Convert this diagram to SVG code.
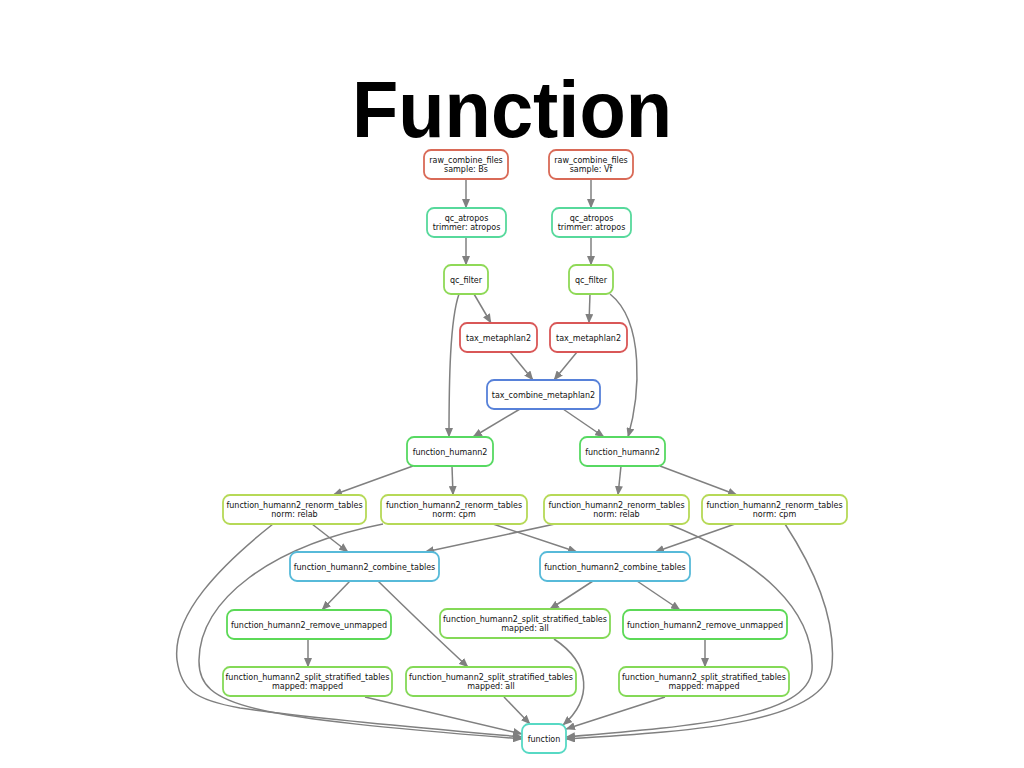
<svg xmlns="http://www.w3.org/2000/svg" width="1024" height="768" viewBox="0 0 1024 768">
<defs>
<marker id="arr" markerUnits="userSpaceOnUse" markerWidth="10" markerHeight="8" refX="9" refY="4" orient="auto">
<path d="M0,0 L9.5,4 L0,8 z" fill="#808080"/>
</marker>
<style>
.n rect{fill:#fff;stroke-width:1.8}
.n text{font-family:"DejaVu Sans",Verdana,sans-serif;font-size:8px;fill:#111;text-anchor:middle}
#edges path{fill:none;stroke:#808080;stroke-width:1.5;marker-end:url(#arr)}
.title{font-family:"Liberation Sans",Arial,Helvetica,sans-serif;font-weight:bold;font-size:80px;fill:#000;text-anchor:middle}
</style>
</defs>
<rect width="1024" height="768" fill="#fff"/>
<text class="title" x="512" y="137" textLength="320" lengthAdjust="spacingAndGlyphs">Function</text>

<g id="edges">
<path d="M466,179 L466,208"/>
<path d="M591,179 L591,208"/>
<path d="M466,237 L466,265"/>
<path d="M591,237 L591,265"/>
<path d="M474,294 L491,323"/>
<path d="M459,294 C450,320 449,380 449,437"/>
<path d="M590,294 L589,323"/>
<path d="M610,294 C645,322 640,395 628,437"/>
<path d="M510,352 L533,380"/>
<path d="M577,352 L554,380"/>
<path d="M520,409 L473,437"/>
<path d="M563,409 L604,437"/>
<path d="M413,466 L333,495"/>
<path d="M452,466 L453,495"/>
<path d="M621,466 L618,495"/>
<path d="M660,466 L737,495"/>
<path d="M312,524 L348,552"/>
<path d="M273,524 C220,566 172,615 177,660 C181,690 195,700 240,708 C320,720 450,730 522,737"/>
<path d="M383,524 C270,546 200,600 199,660 C198,708 250,717 522,739"/>
<path d="M493,524 L577,552"/>
<path d="M555,524 L425,552"/>
<path d="M668,524 C760,560 815,610 812,670 C808,716 700,726 566,737"/>
<path d="M735,524 L655,552"/>
<path d="M785,524 C815,570 836,620 832,665 C828,722 700,731 566,739"/>
<path d="M350,581 L322,610"/>
<path d="M378,581 Q428,630 468,667"/>
<path d="M593,581 L550,609"/>
<path d="M637,581 L680,610"/>
<path d="M308,639 L308,667"/>
<path d="M705,639 L705,667"/>
<path d="M554,639 C592,664 592,700 563,725"/>
<path d="M504,697 L530,724"/>
<path d="M665,697 L566,729"/>
<path d="M365,697 L522,734"/>
</g>

<g id="raw_bs" class="n"><rect x="424" y="150" width="84" height="29" rx="7" stroke="#d96a57"/><text x="466" y="162.5">raw_combine_files</text><text x="466" y="172">sample: Bs</text></g>
<g id="raw_vf" class="n"><rect x="549" y="150" width="84" height="29" rx="7" stroke="#d96a57"/><text x="591" y="162.5">raw_combine_files</text><text x="591" y="172">sample: Vf</text></g>
<g id="qc_atropos_bs" class="n"><rect x="427" y="208" width="79" height="29" rx="7" stroke="#57d99c"/><text x="466.5" y="220.5">qc_atropos</text><text x="466.5" y="230">trimmer: atropos</text></g>
<g id="qc_atropos_vf" class="n"><rect x="552" y="208" width="79" height="29" rx="7" stroke="#57d99c"/><text x="591.5" y="220.5">qc_atropos</text><text x="591.5" y="230">trimmer: atropos</text></g>
<g id="qc_filter_bs" class="n"><rect x="444" y="265" width="44" height="29" rx="7" stroke="#8fd957"/><text x="466" y="282.5">qc_filter</text></g>
<g id="qc_filter_vf" class="n"><rect x="569" y="265" width="44" height="29" rx="7" stroke="#8fd957"/><text x="591" y="282.5">qc_filter</text></g>
<g id="tax_metaphlan2_bs" class="n"><rect x="460" y="323" width="77" height="29" rx="7" stroke="#d95757"/><text x="498.5" y="340.5">tax_metaphlan2</text></g>
<g id="tax_metaphlan2_vf" class="n"><rect x="550" y="323" width="77" height="29" rx="7" stroke="#d95757"/><text x="588.5" y="340.5">tax_metaphlan2</text></g>
<g id="tax_combine_metaphlan2" class="n"><rect x="487" y="380" width="113" height="29" rx="7" stroke="#5781d9"/><text x="543.5" y="397.5">tax_combine_metaphlan2</text></g>
<g id="function_humann2_bs" class="n"><rect x="407" y="437" width="86" height="29" rx="7" stroke="#57d962"/><text x="450" y="454.5">function_humann2</text></g>
<g id="function_humann2_vf" class="n"><rect x="580" y="437" width="85" height="29" rx="7" stroke="#57d962"/><text x="622.5" y="454.5">function_humann2</text></g>
<g id="renorm_relab_1" class="n"><rect x="223" y="495" width="143" height="29" rx="7" stroke="#b6d957"/><text x="294.5" y="507.5">function_humann2_renorm_tables</text><text x="294.5" y="517">norm: relab</text></g>
<g id="renorm_cpm_1" class="n"><rect x="381" y="495" width="146" height="29" rx="7" stroke="#b6d957"/><text x="454" y="507.5">function_humann2_renorm_tables</text><text x="454" y="517">norm: cpm</text></g>
<g id="renorm_relab_2" class="n"><rect x="544" y="495" width="145" height="29" rx="7" stroke="#b6d957"/><text x="616.5" y="507.5">function_humann2_renorm_tables</text><text x="616.5" y="517">norm: relab</text></g>
<g id="renorm_cpm_2" class="n"><rect x="702" y="495" width="145" height="29" rx="7" stroke="#b6d957"/><text x="774.5" y="507.5">function_humann2_renorm_tables</text><text x="774.5" y="517">norm: cpm</text></g>
<g id="combine_tables_1" class="n"><rect x="290" y="552" width="149" height="29" rx="7" stroke="#57bad9"/><text x="364.5" y="569.5">function_humann2_combine_tables</text></g>
<g id="combine_tables_2" class="n"><rect x="540" y="552" width="150" height="29" rx="7" stroke="#57bad9"/><text x="615" y="569.5">function_humann2_combine_tables</text></g>
<g id="remove_unmapped_1" class="n"><rect x="227" y="610" width="164" height="29" rx="7" stroke="#5cd957"/><text x="309" y="627.5">function_humann2_remove_unmapped</text></g>
<g id="split_all_2" class="n"><rect x="440" y="609" width="170" height="29" rx="7" stroke="#84d957"/><text x="525" y="621.5">function_humann2_split_stratified_tables</text><text x="525" y="631">mapped: all</text></g>
<g id="remove_unmapped_2" class="n"><rect x="623" y="610" width="164" height="29" rx="7" stroke="#5cd957"/><text x="705" y="627.5">function_humann2_remove_unmapped</text></g>
<g id="split_mapped_1" class="n"><rect x="223" y="667" width="169" height="29" rx="7" stroke="#84d957"/><text x="307.5" y="679.5">function_humann2_split_stratified_tables</text><text x="307.5" y="689">mapped: mapped</text></g>
<g id="split_all_1" class="n"><rect x="406" y="667" width="170" height="29" rx="7" stroke="#84d957"/><text x="491" y="679.5">function_humann2_split_stratified_tables</text><text x="491" y="689">mapped: all</text></g>
<g id="split_mapped_2" class="n"><rect x="619" y="667" width="170" height="29" rx="7" stroke="#84d957"/><text x="704" y="679.5">function_humann2_split_stratified_tables</text><text x="704" y="689">mapped: mapped</text></g>
<g id="function" class="n"><rect x="522" y="724" width="44" height="29" rx="7" stroke="#57d9c4"/><text x="544" y="741.5">function</text></g>
</svg>
